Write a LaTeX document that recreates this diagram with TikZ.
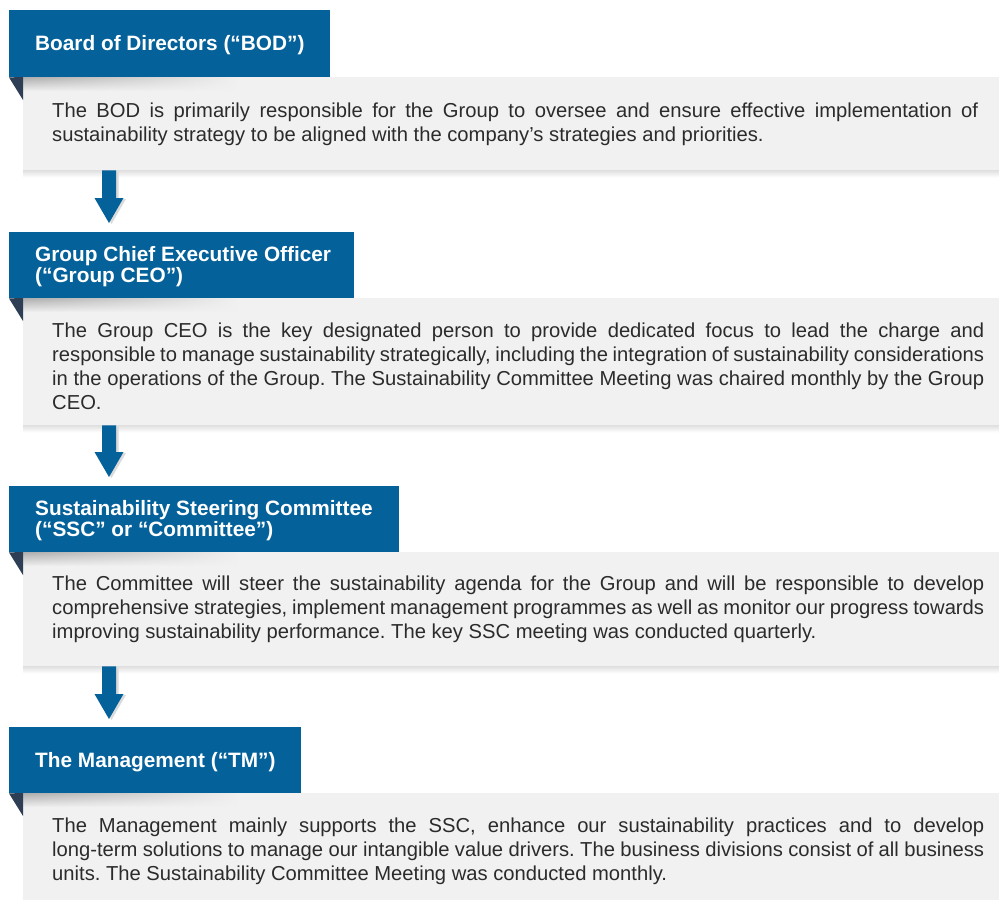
\documentclass[tikz,border=0pt]{standalone}
\usepackage{fontspec}
\setmainfont{Liberation Sans}
\usetikzlibrary{calc,fadings}
\frenchspacing

\definecolor{hdrblue}{HTML}{05619A}
\definecolor{folddark}{HTML}{2E3E54}
\definecolor{panelgrey}{HTML}{F1F1F1}
\definecolor{bodytext}{HTML}{2B2B2B}

\tikzfading[name=fadeoutright, left color=transparent!0, right color=transparent!100]

% one justified line, and one line at natural width
\newcommand\jline[1]{\hbox to\hsize{#1}}
\newcommand\lline[1]{\hbox{#1}}
% downward block arrow from coordinate #1 (top of shaft) to #2 (tip)
\newcommand\flowpath[2]{($(#1)+(-7,0)$) -- ($(#1)+(7,0)$) -- ($(#2)+(7,-25)$) -- ($(#2)+(14.5,-25)$) -- (#2) -- ($(#2)+(-14.5,-25)$) -- ($(#2)+(-7,-25)$) -- cycle}

\tikzset{
  header/.style={fill=hdrblue, anchor=north west, inner sep=0pt, minimum height=66pt},
  hdrtext/.style={text=white, font=\bfseries\fontsize{20.8}{21}\selectfont, anchor=west, align=left, inner sep=0pt},
  panel/.style={fill=panelgrey, anchor=north west, inner sep=0pt, minimum width=976pt},
  bodybox/.style={text=bodytext, font=\fontsize{20.2}{24}\selectfont, anchor=base west, inner sep=0pt},
  fold/.style={fill=folddark},
  flow/.style={fill=hdrblue},
  flowshadow/.style={fill=black!14},
  hdrshadow/.style={top color=black!32, bottom color=panelgrey, path fading=fadeoutright},
  panelshadow/.style={top color=black!12, bottom color=white},
}

\begin{document}
\begin{tikzpicture}[x=1pt,y=-1pt]
\useasboundingbox[fill=white] (0,0) rectangle (999,900);

% grey panels
\node[panel, minimum height=93pt]  (p1) at (23,77)  {};
\node[panel, minimum height=127pt] (p2) at (23,298) {};
\node[panel, minimum height=114pt] (p3) at (23,552) {};
\node[panel, minimum height=107pt] (p4) at (23,793) {};

% soft shadows under the panels
\shade[panelshadow] (p1.south west) rectangle ($(p1.south east)+(0,7)$);
\shade[panelshadow] (p2.south west) rectangle ($(p2.south east)+(0,7)$);
\shade[panelshadow] (p3.south west) rectangle ($(p3.south east)+(0,7)$);

% blue title bars
\node[header, minimum width=321pt, minimum height=67pt] (h1) at (9,10) {};
\node[header, minimum width=345pt] (h2) at (9,232) {};
\node[header, minimum width=390pt] (h3) at (9,486) {};
\node[header, minimum width=292pt] (h4) at (9,727) {};

% shadow cast by each title bar and its folded corner
\foreach \h/\p in {h1/p1,h2/p2,h3/p3,h4/p4}{
  \shade[hdrshadow] (\p.north west) rectangle ($(\p.north west)+(215,14)$);
  \fill[fold] (\h.south west) -- (\p.north west) -- ($(\p.north west)+(0,23)$) -- cycle;
}

% titles
\node[hdrtext] (t1) at ($(h1.west)+(26,1.5)$) {Board of Directors (“BOD”)};
\node[hdrtext] (t2) at ($(h2.west)+(26,1)$) {Group Chief Executive Officer\\(“Group CEO”)};
\node[hdrtext] (t3) at ($(h3.west)+(26,1)$) {Sustainability Steering Committee\\(“SSC” or “Committee”)};
\node[hdrtext] (t4) at ($(h4.west)+(26,1.5)$) {The Management (“TM”)};

% descriptions
\node[bodybox] (d1) at ($(p1.north west)+(29,40.5)$) {\parbox[t]{926pt}{%
  \jline{The BOD is primarily responsible for the Group to oversee and ensure effective implementation of}
  \lline{sustainability strategy to be aligned with the company’s strategies and priorities.}}};
\node[bodybox] (d2) at ($(p2.north west)+(29,39)$) {\parbox[t]{932pt}{%
  \jline{The Group CEO is the key designated person to provide dedicated focus to lead the charge and}
  \jline{responsible to manage sustainability strategically, including the integration of sustainability considerations}
  \jline{in the operations of the Group. The Sustainability Committee Meeting was chaired monthly by the Group}
  \lline{CEO.}}};
\node[bodybox] (d3) at ($(p3.north west)+(29,38)$) {\parbox[t]{932pt}{%
  \jline{The Committee will steer the sustainability agenda for the Group and will be responsible to develop}
  \jline{comprehensive strategies, implement management programmes as well as monitor our progress towards}
  \lline{improving sustainability performance. The key SSC meeting was conducted quarterly.}}};
\node[bodybox] (d4) at ($(p4.north west)+(29,39)$) {\parbox[t]{932pt}{%
  \jline{The Management mainly supports the SSC, enhance our sustainability practices and to develop}
  \jline{long-term solutions to manage our intangible value drivers. The business divisions consist of all business}
  \lline{units. The Sustainability Committee Meeting was conducted monthly.}}};

% block arrows between the stages
\coordinate (a1) at ($(p1.south west)+(86,0)$);
\coordinate (b1) at ($(h2.north west)+(100,-9)$);
\coordinate (a2) at ($(p2.south west)+(86,0)$);
\coordinate (b2) at ($(h3.north west)+(100,-9)$);
\coordinate (a3) at ($(p3.south west)+(86,0)$);
\coordinate (b3) at ($(h4.north west)+(100,-8)$);
\foreach \a/\b in {a1/b1,a2/b2,a3/b3}{
  \fill[flowshadow, transform canvas={xshift=2.5pt,yshift=-1pt}] \flowpath{\a}{\b};
  \fill[flow] \flowpath{\a}{\b};
}
\end{tikzpicture}
\end{document}
